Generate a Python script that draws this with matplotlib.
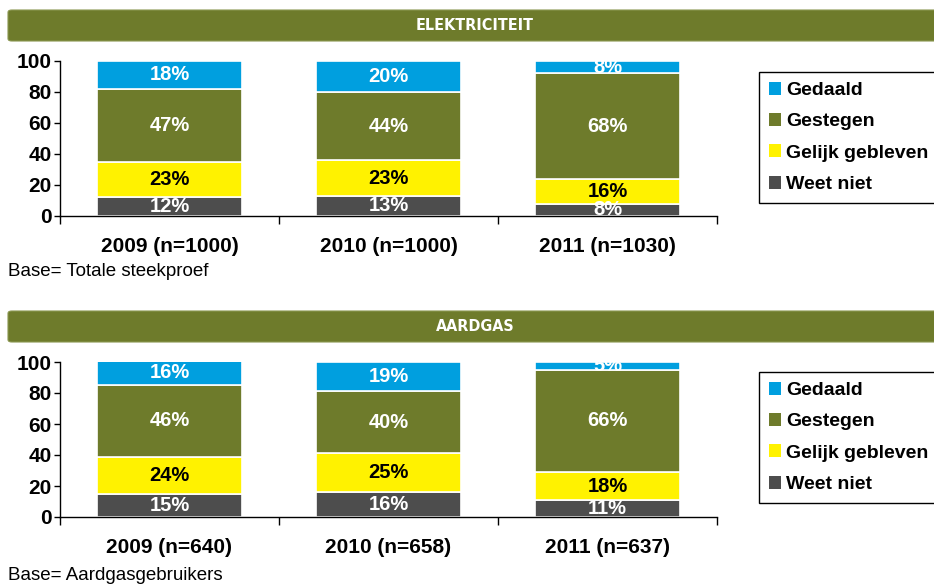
import matplotlib.pyplot as plt
import numpy as np
from matplotlib.patches import FancyBboxPatch, Patch

plt.rcParams["font.family"] = ["Liberation Sans", "DejaVu Sans"]

series = ["Weet niet", "Gelijk gebleven", "Gestegen", "Gedaald"]
colors = ["#4D4D4D", "#FFF200", "#6E7B2B", "#009FDF"]
text_colors = ["white", "black", "white", "white"]

elek_labels = ["2009 (n=1000)", "2010 (n=1000)", "2011 (n=1030)"]
elek_weet_niet = [12, 13, 8]
elek_gelijk = [23, 23, 16]
elek_gestegen = [47, 44, 68]
elek_gedaald = [18, 20, 8]

gas_labels = ["2009 (n=640)", "2010 (n=658)", "2011 (n=637)"]
gas_weet_niet = [15, 16, 11]
gas_gelijk = [24, 25, 18]
gas_gestegen = [46, 40, 66]
gas_gedaald = [16, 19, 5]

W, H = 934, 586
fig = plt.figure(figsize=(W / 100, H / 100), dpi=100)


def px(x, y, w, h):
    return [x / W, 1 - (y + h) / H, w / W, h / H]


def header(y, title):
    box = FancyBboxPatch((8 / W, 1 - (y + 31) / H), (W + 20) / W, 31 / H,
                         boxstyle="round,pad=0,rounding_size=0.004",
                         transform=fig.transFigure, facecolor="#6E7B2B",
                         edgecolor="#8A9650", linewidth=0.8)
    fig.patches.append(box)
    fig.text(475 / W, 1 - (y + 15.5) / H, title, color="white", fontsize=11.5,
             fontweight="bold", fontstretch="condensed", ha="center", va="center",
             family=["DejaVu Sans"])


def panel(rect, labels, values, base_text, base_y, legend_y):
    ax = fig.add_axes(px(*rect))
    x = np.arange(len(labels))
    bottom = np.zeros(len(labels))
    for name, vals, color, tcol in zip(series, values, colors, text_colors):
        vals = np.array(vals, dtype=float)
        ax.bar(x, vals, 0.66, bottom=bottom, color=color, edgecolor="white",
               linewidth=1.2, label=name)
        for xi, b, v in zip(x, bottom, vals):
            ax.text(xi, b + v / 2, f"{int(v)}%", ha="center", va="center",
                    color=tcol, fontsize=14.5, fontweight="bold")
        bottom += vals
    ax.set_xlim(-0.5, 2.5)
    ax.set_ylim(0, 100)
    ax.set_yticks(range(0, 101, 20))
    ax.set_xticks(x, labels)
    ax.set_xticks([-0.5, 0.5, 1.5, 2.5], minor=True)
    ax.tick_params(axis="x", which="major", length=0, pad=15, labelsize=15)
    ax.tick_params(axis="x", which="minor", length=6, width=1)
    ax.tick_params(axis="y", length=4, width=1, labelsize=15, pad=2)
    for lab in ax.get_xticklabels() + ax.get_yticklabels():
        lab.set_fontweight("bold")
    for side in ("top", "right"):
        ax.spines[side].set_visible(False)
    ax.spines["left"].set_linewidth(1)
    ax.spines["bottom"].set_linewidth(1)
    fig.text(8 / W, 1 - base_y / H, base_text, fontsize=13.5, ha="left", va="center")
    handles = [Patch(facecolor=c, edgecolor="none") for c in colors[::-1]]
    leg = fig.legend(handles, series[::-1], loc="upper left",
                     bbox_to_anchor=(759 / W, 1 - legend_y / H),
                     borderaxespad=0, fancybox=False, edgecolor="black",
                     framealpha=1, handlelength=0.65, handleheight=0.65,
                     handletextpad=0.25, labelspacing=0.72, borderpad=0.5,
                     prop={"weight": "bold", "size": 14})
    leg.get_frame().set_linewidth(1)


header(10, "ELEKTRICITEIT")
panel((60, 61, 657, 155), elek_labels,
      [elek_weet_niet, elek_gelijk, elek_gestegen, elek_gedaald],
      "Base= Totale steekproef", 271, 72)

header(311, "AARDGAS")
panel((60, 362, 657, 155), gas_labels,
      [gas_weet_niet, gas_gelijk, gas_gestegen, gas_gedaald],
      "Base= Aardgasgebruikers", 576, 372)

fig.savefig("out.png", dpi=100)
